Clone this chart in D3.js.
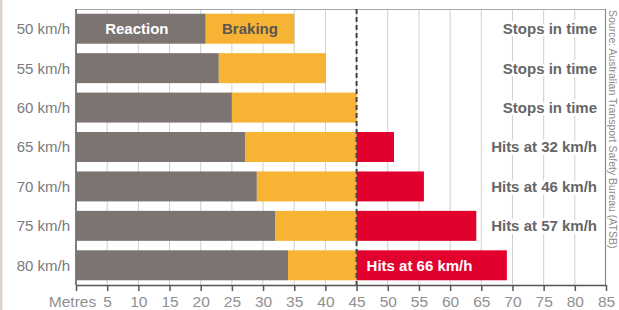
<!DOCTYPE html>
<html>
<head>
  <meta charset="UTF-8">
  <style>
    body { margin: 0; background: #fff; font-family: "Liberation Sans", Arial, sans-serif; }
    svg { display: block; }
  </style>
</head>
<body>
<svg width="619" height="310"></svg>
<script src="https://d3js.org/d3.v7.min.js"></script>
<script>
// speeds and distances (metres)
const speeds = ["50 km/h", "55 km/h", "60 km/h", "65 km/h", "70 km/h", "75 km/h", "80 km/h"];
const reaction = [20.8, 22.9, 25, 27.1, 29, 32, 34];
const braking = [14.2, 17.2, 20, 23.9, 26.8, 32.2, 35.1];
const outcomes = ["Stops in time", "Stops in time", "Stops in time", "Hits at 32 km/h", "Hits at 46 km/h", "Hits at 57 km/h", "Hits at 66 km/h"];
const ticks = [0, 5, 10, 15, 20, 25, 30, 35, 40, 45, 50, 55, 60, 65, 70, 75, 80, 85];
const obstacle = 45;

const svg = d3.select("svg");
const mLeft = 76, mRight = 606, mTop = 9, mBottom = 285;

const x = d3.scaleLinear().domain([0, 85]).range([mLeft, mRight]);
const y = d3.scaleBand().domain(speeds).range([mTop, mBottom]).paddingInner(0.24).paddingOuter(0.12);

// left beige strip
svg.append("rect").attr("x", 0).attr("y", 0).attr("width", 2.5).attr("height", 310).attr("fill", "#dcd3cc");

// grid
svg.append("g").selectAll("line")
  .data(ticks.filter(t => t > 0 && t < 85))
  .enter().append("line")
  .attr("x1", d => x(d)).attr("x2", d => x(d))
  .attr("y1", mTop).attr("y2", mBottom)
  .attr("stroke", "#cfcfcf").attr("stroke-width", 1);

// frame
svg.append("line").attr("x1", mLeft).attr("x2", mRight).attr("y1", mTop + 0.5).attr("y2", mTop + 0.5)
  .attr("stroke", "#a8a8a8").attr("stroke-width", 1.2);
svg.append("line").attr("x1", mRight - 0.5).attr("x2", mRight - 0.5).attr("y1", mTop).attr("y2", mBottom)
  .attr("stroke", "#8a8a8a").attr("stroke-width", 1.2);
svg.append("line").attr("x1", mLeft).attr("x2", mLeft).attr("y1", mTop).attr("y2", mBottom)
  .attr("stroke", "#555").attr("stroke-width", 1.5);

const rows = speeds.map((s, i) => ({ s, r: reaction[i], b: braking[i], t: reaction[i] + braking[i], o: outcomes[i] }));

const g = svg.append("g");
// reaction
g.selectAll(".re").data(rows).enter().append("rect")
  .attr("x", x(0)).attr("y", d => y(d.s))
  .attr("width", d => x(d.r) - x(0)).attr("height", y.bandwidth())
  .attr("fill", "#7c7471");
// braking up to the obstacle
g.selectAll(".br").data(rows).enter().append("rect")
  .attr("x", d => x(d.r)).attr("y", d => y(d.s))
  .attr("width", d => x(Math.min(d.t, obstacle)) - x(d.r)).attr("height", y.bandwidth())
  .attr("fill", "#f6b334");
// past the obstacle
g.selectAll(".hit").data(rows.filter(d => d.t > obstacle)).enter().append("rect")
  .attr("x", x(obstacle)).attr("y", d => y(d.s))
  .attr("width", d => x(d.t) - x(obstacle)).attr("height", y.bandwidth())
  .attr("fill", "#e2002f");

// dashed obstacle line
svg.append("line").attr("x1", x(obstacle)).attr("x2", x(obstacle))
  .attr("y1", mTop).attr("y2", mBottom)
  .attr("stroke", "#444").attr("stroke-width", 2).attr("stroke-dasharray", "5,3");

// bottom axis
const axis = svg.append("g").attr("transform", `translate(0,${mBottom})`)
  .call(d3.axisBottom(x).tickValues(ticks).tickSize(6).tickSizeOuter(0)
    .tickFormat(d => d === 0 ? "" : d));
axis.select(".domain").attr("stroke", "#555").attr("stroke-width", 1.5);
axis.selectAll(".tick line").attr("stroke", "#555").attr("stroke-width", 1.5);
axis.selectAll("text").attr("font-family", "Liberation Sans, Arial, sans-serif")
  .attr("font-size", 15.5).attr("fill", "#8f8f8f").attr("dy", "0").attr("y", 22);
svg.append("text").attr("x", x(5) - 11).attr("y", mBottom + 22).attr("text-anchor", "end")
  .attr("font-size", 15.5).attr("fill", "#8f8f8f").text("Metres");

// speed labels
svg.append("g").selectAll("text").data(speeds).enter().append("text")
  .attr("x", 70).attr("y", d => y(d) + y.bandwidth() / 2)
  .attr("dy", "0.36em").attr("text-anchor", "end")
  .attr("font-size", 15).attr("fill", "#7a7a7a").text(d => d);

// in-bar legend labels
const first = rows[0];
svg.append("text").attr("x", (x(0) + x(first.r)) / 2 - 4).attr("y", y(first.s) + y.bandwidth() / 2)
  .attr("dy", "0.36em").attr("text-anchor", "middle").attr("font-weight", "bold")
  .attr("font-size", 15).attr("fill", "#fff").text("Reaction");
svg.append("text").attr("x", (x(first.r) + x(first.t)) / 2).attr("y", y(first.s) + y.bandwidth() / 2)
  .attr("dy", "0.36em").attr("text-anchor", "middle").attr("font-weight", "bold")
  .attr("font-size", 15).attr("fill", "#5a5452").text("Braking");

// outcome labels
const last = rows.length - 1;
svg.append("g").selectAll("text").data(rows).enter().append("text")
  .attr("x", (d, i) => i === last ? x(obstacle) + 10 : mRight - 9)
  .attr("y", d => y(d.s) + y.bandwidth() / 2)
  .attr("dy", "0.36em")
  .attr("text-anchor", (d, i) => i === last ? "start" : "end")
  .attr("font-weight", "bold").attr("font-size", 15)
  .attr("fill", (d, i) => i === last ? "#fff" : "#666")
  .attr("stroke", (d, i) => i === last ? "none" : "#fff")
  .attr("stroke-width", 6).attr("paint-order", "stroke")
  .text(d => d.o);

// source note
svg.append("text").attr("transform", "translate(609,10) rotate(90)")
  .attr("font-size", 10.5).attr("fill", "#8a8a8a")
  .text("Source: Australian Transport Safety Bureau (ATSB)");
</script>
</body>
</html>
